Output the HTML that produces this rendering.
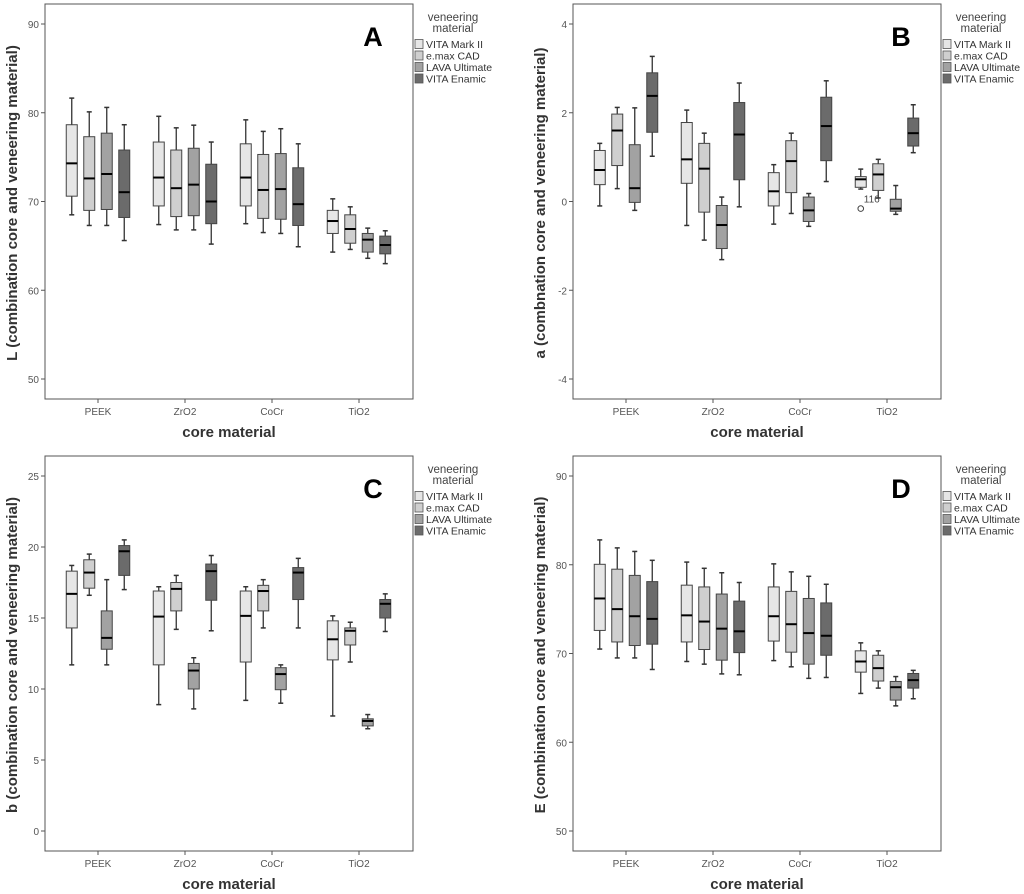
<!DOCTYPE html>
<html><head><meta charset="utf-8">
<style>
html,body{margin:0;padding:0;background:#fff;}
svg{display:block;font-family:"Liberation Sans","DejaVu Sans",sans-serif;}
</style></head>
<body>
<svg id="fig" width="1024" height="894" viewBox="0 0 1024 894" xmlns="http://www.w3.org/2000/svg"></svg>
<script>
// shared data
const categories = ["PEEK", "ZrO2", "CoCr", "TiO2"];
const seriesNames = ["VITA Mark II", "e.max CAD", "LAVA Ultimate", "VITA Enamic"];
// Panel A (L): each entry [min, q1, median, q3, max] per category
const A_markII = [[68.5,70.6,74.3,78.65,81.65],[67.4,69.5,72.7,76.7,79.6],[67.5,69.5,72.7,76.5,79.2],[64.3,66.4,67.8,69.0,70.3]];
const A_emax   = [[67.3,69.0,72.6,77.3,80.1],[66.8,68.3,71.5,75.8,78.3],[66.5,68.1,71.3,75.3,77.9],[64.6,65.3,66.9,68.5,69.4]];
const A_lava   = [[67.3,69.1,73.1,77.7,80.6],[66.8,68.4,71.9,76.0,78.6],[66.4,68.0,71.4,75.4,78.2],[63.6,64.3,65.7,66.4,67.0]];
const A_enamic = [[65.6,68.2,71.05,75.8,78.65],[65.2,67.5,70.0,74.2,76.7],[64.9,67.3,69.7,73.8,76.5],[63.0,64.1,65.1,66.1,66.7]];
const A_ticks = [50, 60, 70, 80, 90];
// Panel B (a)
const B_markII = [[-0.1,0.38,0.71,1.15,1.31],[-0.54,0.41,0.95,1.78,2.06],[-0.51,-0.1,0.23,0.65,0.83],[0.28,0.32,0.5,0.56,0.73]];
const B_emax   = [[0.29,0.81,1.6,1.97,2.12],[-0.87,-0.24,0.74,1.31,1.54],[-0.27,0.2,0.91,1.37,1.54],[0.08,0.25,0.61,0.85,0.95]];
const B_lava   = [[-0.2,-0.02,0.3,1.28,2.11],[-1.31,-1.06,-0.53,-0.09,0.1],[-0.56,-0.45,-0.2,0.1,0.18],[-0.29,-0.22,-0.16,0.05,0.36]];
const B_enamic = [[1.02,1.56,2.38,2.9,3.27],[-0.12,0.49,1.51,2.23,2.67],[0.45,0.92,1.7,2.35,2.72],[1.1,1.25,1.54,1.88,2.18]];
const B_ticks = [-4, -2, 0, 2, 4];
const B_outlierValues = [-0.16];
const B_outlierLabels = ["116"];
// Panel C (b)
const C_markII = [[11.7,14.3,16.7,18.3,18.7],[8.9,11.7,15.1,16.9,17.2],[9.2,11.9,15.15,16.9,17.2],[8.1,12.05,13.5,14.8,15.15]];
const C_emax   = [[16.6,17.1,18.2,19.1,19.5],[14.2,15.5,17.05,17.5,18.0],[14.3,15.5,16.9,17.3,17.7],[11.9,13.1,14.1,14.3,14.7]];
const C_lava   = [[11.7,12.8,13.6,15.5,17.7],[8.6,10.0,11.3,11.8,12.2],[9.0,9.95,11.05,11.5,11.7],[7.2,7.4,7.75,7.9,8.2]];
const C_enamic = [[17.0,18.0,19.7,20.1,20.5],[14.1,16.25,18.3,18.8,19.4],[14.3,16.3,18.2,18.55,19.2],[14.05,15.0,16.0,16.3,16.7]];
const C_ticks = [0, 5, 10, 15, 20, 25];
// Panel D (E)
const D_markII = [[70.5,72.6,76.2,80.05,82.8],[69.1,71.3,74.3,77.7,80.3],[69.2,71.4,74.2,77.5,80.1],[65.5,67.9,69.1,70.3,71.2]];
const D_emax   = [[69.5,71.3,75.0,79.5,81.9],[68.8,70.45,73.6,77.5,79.6],[68.5,70.15,73.3,77.0,79.2],[66.1,66.9,68.35,69.8,70.3]];
const D_lava   = [[69.5,70.9,74.2,78.8,81.5],[67.7,69.25,72.8,76.7,79.1],[67.2,68.8,72.3,76.2,78.7],[64.1,64.75,66.2,66.85,67.4]];
const D_enamic = [[68.2,71.05,73.9,78.1,80.5],[67.6,70.1,72.5,75.9,78.0],[67.3,69.8,72.0,75.7,77.8],[64.9,66.1,67.0,67.75,68.1]];
const D_ticks = [50, 60, 70, 80, 90];

const fills = ["#e6e6e6", "#cfcfcf", "#a2a2a2", "#6b6b6b"];
const NS = "http://www.w3.org/2000/svg";
const svg = document.getElementById("fig");

function mk(tag, attrs, parent) {
  const e = document.createElementNS(NS, tag);
  for (const k in attrs) e.setAttribute(k, attrs[k]);
  (parent || svg).appendChild(e);
  return e;
}

function panel(opt) {
  const g = mk("g", {});
  
  
  const L = opt.x, T = opt.y, W = 368, H = 395;
  const tMin = opt.ticks[0], tMax = opt.ticks[opt.ticks.length - 1];
  const yS = v => T + 375 - (v - tMin) / (tMax - tMin) * 355;
  const xC = i => L + 53 + i * 87;
  const offs = [-26.25, -8.75, 8.75, 26.25];
  const bw = 11;

  const frame = mk("rect", {x: L, y: T, width: W, height: H, fill: "none", stroke: "#555", "stroke-width": 1}, g);
  
  

  opt.ticks.forEach(t => {
    const y = yS(t);
    mk("line", {x1: L - 4, x2: L, y1: y, y2: y, stroke: "#555"}, g);
    const tx = mk("text", {x: L - 6, y: y + 4, "text-anchor": "end", "font-size": 10, fill: "#555"}, g);
    tx.textContent = t;
    
    
  });
  categories.forEach((c, i) => {
    const x = xC(i);
    mk("line", {x1: x, x2: x, y1: T + H, y2: T + H + 4, stroke: "#555"}, g);
    const tx = mk("text", {x: x, y: T + H + 16, "text-anchor": "middle", "font-size": 10, fill: "#555"}, g);
    tx.textContent = c;
    
    
  });

  opt.series.forEach((ser, s) => {
    ser.forEach((st, i) => {
      const cx = xC(i) + offs[s];
      const bg = mk("g", {}, g);
      
      
      const [mn, q1, md, q3, mx] = st;
      mk("line", {x1: cx, x2: cx, y1: yS(mx), y2: yS(q3), stroke: "#333", "stroke-width": 1.3}, bg);
      mk("line", {x1: cx, x2: cx, y1: yS(q1), y2: yS(mn), stroke: "#333", "stroke-width": 1.3}, bg);
      mk("line", {x1: cx - 2.5, x2: cx + 2.5, y1: yS(mx), y2: yS(mx), stroke: "#333", "stroke-width": 1.5}, bg);
      mk("line", {x1: cx - 2.5, x2: cx + 2.5, y1: yS(mn), y2: yS(mn), stroke: "#333", "stroke-width": 1.5}, bg);
      mk("rect", {x: cx - bw / 2, y: yS(q3), width: bw, height: Math.max(1, yS(q1) - yS(q3)), fill: fills[s], stroke: "#444", "stroke-width": 1}, bg);
      mk("line", {x1: cx - bw / 2, x2: cx + bw / 2, y1: yS(md), y2: yS(md), stroke: "#000", "stroke-width": 2}, bg);
    });
  });

  if (opt.outliers) {
    opt.outliers.forEach(o => {
      const cx = xC(o.cat) + offs[o.ser];
      const c = mk("circle", {cx: cx, cy: yS(o.v), r: 2.8, fill: "none", stroke: "#444", "stroke-width": 1}, g);
      
      
      const t = mk("text", {x: cx + 3, y: yS(o.v) - 6, "font-size": 10, fill: "#444"}, g);
      t.textContent = o.label;
      
      
    });
  }

  const letter = mk("text", {x: L + W - 40, y: T + 42, "text-anchor": "middle", "font-size": 27, "font-weight": "bold", fill: "#000"}, g);
  letter.textContent = opt.letter;
  
  

  const yt = mk("text", {transform: "translate(" + (L - 28) + "," + (T + 199) + ") rotate(-90)", "text-anchor": "middle", "font-size": 15, "font-weight": "bold", fill: "#333"}, g);
  yt.textContent = opt.ytitle;
  
  

  const xt = mk("text", {x: L + 184, y: T + H + 38, "text-anchor": "middle", "font-size": 15, "font-weight": "bold", fill: "#333"}, g);
  xt.textContent = "core material";
  
  

  const lg = mk("g", {}, g);
  
  
  const lx = L + W;
  const t1 = mk("text", {x: lx + 40, y: T + 17, "text-anchor": "middle", "font-size": 11.5, fill: "#444"}, lg);
  t1.textContent = "veneering";
  
  
  const t2 = mk("text", {x: lx + 40, y: T + 28, "text-anchor": "middle", "font-size": 11.5, fill: "#444"}, lg);
  t2.textContent = "material";
  
  
  seriesNames.forEach((n, s) => {
    const cy = T + 40 + s * 11.5;
    const eg = mk("g", {}, lg);
    
    
    mk("rect", {x: lx + 2, y: cy - 4.5, width: 8, height: 9, fill: fills[s], stroke: "#555", "stroke-width": 0.8}, eg);
    const tx = mk("text", {x: lx + 13, y: cy + 4, "font-size": 10.5, fill: "#333"}, eg);
    tx.textContent = n;
  });
}

panel({name: "panel-a", letter: "A", x: 45, y: 4, ticks: A_ticks, ytitle: "L (combination core and veneering material)", series: [A_markII, A_emax, A_lava, A_enamic]});
panel({name: "panel-b", letter: "B", x: 573, y: 4, ticks: B_ticks, ytitle: "a (combnation core and veneering material)", series: [B_markII, B_emax, B_lava, B_enamic],
  outliers: [{cat: 3, ser: 0, v: B_outlierValues[0], label: B_outlierLabels[0]}]});
panel({name: "panel-c", letter: "C", x: 45, y: 456, ticks: C_ticks, ytitle: "b (combination core and veneering material)", series: [C_markII, C_emax, C_lava, C_enamic]});
panel({name: "panel-d", letter: "D", x: 573, y: 456, ticks: D_ticks, ytitle: "E (combination core and veneering material)", series: [D_markII, D_emax, D_lava, D_enamic]});
</script>
</body></html>
